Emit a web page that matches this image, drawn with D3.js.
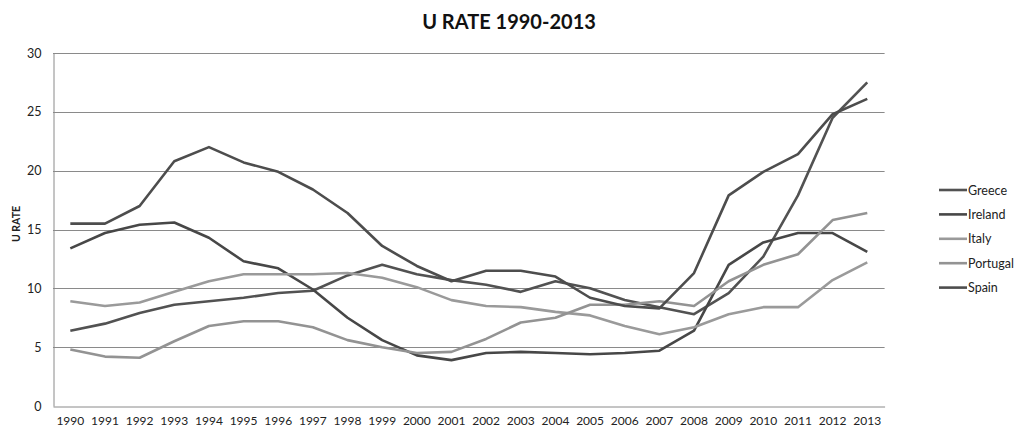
<!DOCTYPE html>
<html>
<head>
<meta charset="utf-8">
<script src="https://cdn.jsdelivr.net/npm/d3@7/dist/d3.min.js"></script>
<style>
  html, body { margin: 0; padding: 0; background: #fff; }
  svg { display: block; font-family: Lato, "Open Sans", sans-serif; }
</style>
</head>
<body>
<svg id="chart" width="1017" height="429"></svg>
<script>
// Unemployment rate by country, 1990-2013
const years = d3.range(1990, 2014).map(String);
const greece   = [6.4, 7.0, 7.9, 8.6, 8.9, 9.2, 9.6, 9.8, 11.1, 12.0, 11.2, 10.7, 10.3, 9.7, 10.6, 10.0, 9.0, 8.4, 7.8, 9.6, 12.7, 17.9, 24.5, 27.5];
const ireland  = [13.4, 14.7, 15.4, 15.6, 14.3, 12.3, 11.7, 9.9, 7.5, 5.6, 4.3, 3.9, 4.5, 4.6, 4.5, 4.4, 4.5, 4.7, 6.4, 12.0, 13.9, 14.7, 14.7, 13.1];
const italy    = [8.9, 8.5, 8.8, 9.7, 10.6, 11.2, 11.2, 11.2, 11.3, 10.9, 10.1, 9.0, 8.5, 8.4, 8.0, 7.7, 6.8, 6.1, 6.7, 7.8, 8.4, 8.4, 10.7, 12.2];
const portugal = [4.8, 4.2, 4.1, 5.5, 6.8, 7.2, 7.2, 6.7, 5.6, 5.0, 4.5, 4.6, 5.7, 7.1, 7.5, 8.6, 8.6, 8.9, 8.5, 10.6, 12.0, 12.9, 15.8, 16.4];
const spain    = [15.5, 15.5, 17.0, 20.8, 22.0, 20.7, 19.9, 18.4, 16.4, 13.6, 11.9, 10.6, 11.5, 11.5, 11.0, 9.2, 8.5, 8.3, 11.3, 17.9, 19.9, 21.4, 24.8, 26.1];
const seriesNames = ["Greece", "Ireland", "Italy", "Portugal", "Spain"];
const yTicks = [0, 5, 10, 15, 20, 25, 30];

const seriesValues = [greece, ireland, italy, portugal, spain];
const colors = ["#525252", "#474747", "#9a9a9a", "#939393", "#4d4d4d"];

const svg = d3.select("#chart");
const plotLeft = 53, plotRight = 884.6, plotTop = 53, plotBottom = 406;

const x = d3.scaleBand().domain(years).range([plotLeft, plotRight]);
const y = d3.scaleLinear().domain([0, 30]).range([plotBottom, plotTop]);

// Title
svg.append("text")
  .attr("x", 509).attr("y", 29)
  .attr("text-anchor", "middle")
  .attr("font-size", 20).attr("font-weight", "bold")
  .attr("fill", "#111")
  .text("U RATE 1990-2013");

// Horizontal gridlines
svg.append("g")
  .selectAll("line")
  .data(yTicks.filter(d => d > 0))
  .join("line")
  .attr("x1", plotLeft).attr("x2", plotRight)
  .attr("y1", d => Math.round(y(d)) + 0.5).attr("y2", d => Math.round(y(d)) + 0.5)
  .attr("stroke", "#8a8a8a").attr("stroke-width", 1);

// Y axis
const yAxis = svg.append("g")
  .attr("transform", `translate(${plotLeft + 0.5},0)`)
  .call(d3.axisLeft(y).tickValues(yTicks).tickSize(0).tickPadding(12));
yAxis.select(".domain").attr("stroke", "#8a8a8a");
yAxis.selectAll("text").attr("font-size", 12.5).attr("fill", "#222")
  .attr("font-family", "Lato, sans-serif");

// X axis
const xAxis = svg.append("g")
  .attr("transform", `translate(0,${Math.round(plotBottom) + 0.5})`)
  .call(d3.axisBottom(x).tickSize(0).tickPadding(10));
xAxis.select(".domain").attr("stroke", "#8a8a8a");
xAxis.selectAll("text").attr("font-size", 12).attr("fill", "#222")
  .attr("font-family", "Lato, sans-serif");

// Y axis title
svg.append("text")
  .attr("transform", "translate(20,224) rotate(-90)")
  .attr("text-anchor", "middle")
  .attr("font-size", 10.5).attr("font-weight", "bold")
  .attr("fill", "#222")
  .text("U RATE");

// Series lines
const line = d3.line()
  .x((d, i) => x(years[i]) + x.bandwidth() / 2)
  .y(d => y(d));

svg.append("g")
  .selectAll("path")
  .data(seriesValues)
  .join("path")
  .attr("d", d => line(d))
  .attr("fill", "none")
  .attr("stroke", (d, i) => colors[i])
  .attr("stroke-width", 2.6)
  .attr("stroke-linejoin", "round");

// Legend
const legend = svg.append("g")
  .selectAll("g")
  .data(seriesNames)
  .join("g")
  .attr("transform", (d, i) => `translate(939,${190 + i * 24.4})`);
legend.append("line")
  .attr("x1", 0).attr("x2", 28)
  .attr("stroke", (d, i) => colors[i]).attr("stroke-width", 2.6);
legend.append("text")
  .attr("x", 29).attr("y", 4.5)
  .attr("font-size", 12.5).attr("fill", "#222")
  .text(d => d);
</script>
</body>
</html>
